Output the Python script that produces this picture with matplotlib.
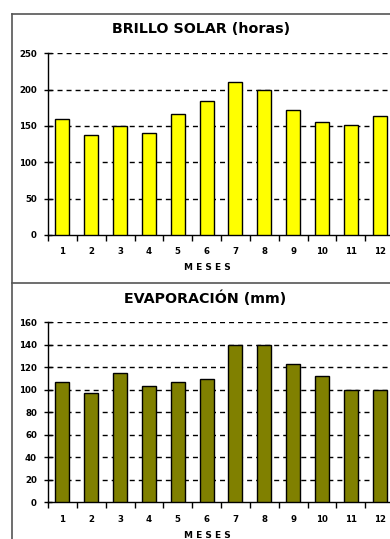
import matplotlib
matplotlib.use("Agg")
import matplotlib.pyplot as plt
from matplotlib.lines import Line2D

meses = ["1", "2", "3", "4", "5", "6", "7", "8", "9", "10", "11", "12"]
brillo_solar = [160, 138, 150, 140, 166, 184, 210, 200, 172, 155, 151, 164]
evaporacion = [107, 97, 115, 103, 107, 110, 140, 140, 123, 112, 100, 100]
brillo_ticks = [0, 50, 100, 150, 200, 250]
evap_ticks = [0, 20, 40, 60, 80, 100, 120, 140, 160]

plt.rcParams['font.family'] = ['DejaVu Sans']

W, H = 390, 539
fig = plt.figure(figsize=(W / 100, H / 100), dpi=100)

def fx(px):
    return px / W

def fy(py):
    return 1 - py / H

def panel(y_top_px, y_zero_px, values, ticks, color, title, title_y, title_x, meses_y):
    ax = fig.add_axes([fx(48), fy(y_zero_px), fx(394 - 48), (y_zero_px - y_top_px) / H])
    x = list(range(len(values)))
    ax.bar(x, values, width=0.49, color=color, edgecolor="black", linewidth=1.0, zorder=3)
    ax.set_xlim(-0.5, len(values) - 0.5)
    ax.set_ylim(ticks[0], ticks[-1])
    ax.set_yticks(ticks)
    ax.set_yticklabels([str(t) for t in ticks], fontsize=6.2, fontweight="bold")
    ax.set_xticks(x)
    ax.set_xticklabels(meses, fontsize=6.2, fontweight="bold")
    ax.set_xticks([i - 0.5 for i in range(len(values) + 1)], minor=True)
    ax.tick_params(axis="x", which="major", length=0, pad=9)
    ax.tick_params(axis="x", which="minor", length=4, direction="out", width=1)
    ax.tick_params(axis="y", length=6, direction="inout", width=1, pad=5)
    for t in ticks[1:]:
        ax.axhline(t, color="black", linewidth=1.0, linestyle=(0, (3.6, 2.9)), zorder=1)
    for s in ["top", "right"]:
        ax.spines[s].set_visible(False)
    ax.spines["left"].set_linewidth(1.0)
    ax.spines["bottom"].set_linewidth(1.0)
    ax.set_facecolor("none")
    fig.text(fx(title_x), fy(title_y), title, ha="center", va="center",
             fontsize=10.3, fontweight="bold")
    fig.text(fx(207), fy(meses_y), "M E S E S", ha="center", va="center",
             fontsize=6.5, fontweight="bold")
    return ax

panel(53.3, 235, brillo_solar, brillo_ticks, "#FFFF00", "BRILLO SOLAR (horas)", 29, 201, 267)
panel(322.3, 502.3, evaporacion, evap_ticks, "#808000", "EVAPORACIÓN (mm)", 298, 205, 535)

# outer border and separator
border_color = "#555555"
fig.add_artist(Line2D([fx(12.5), fx(12.5)], [fy(14), fy(545)], color=border_color, lw=1.2))
fig.add_artist(Line2D([fx(12.5), fx(400)], [fy(14), fy(14)], color=border_color, lw=1.2))
fig.add_artist(Line2D([fx(12.5), fx(400)], [fy(282.5), fy(282.5)], color=border_color, lw=1.2))

fig.savefig("out.png", dpi=100, facecolor="white")
